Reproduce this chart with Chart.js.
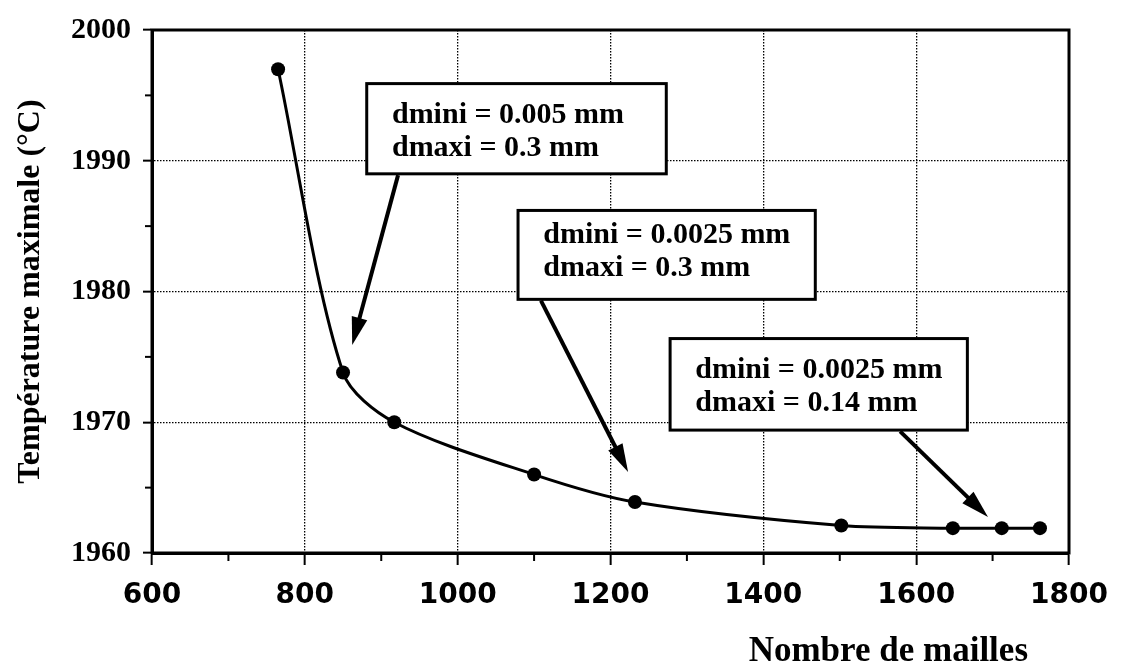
<!DOCTYPE html>
<html>
<head>
<meta charset="utf-8">
<script src="https://cdn.jsdelivr.net/npm/chart.js@4/dist/chart.umd.min.js"></script>
<style>
  html, body { margin: 0; padding: 0; background: #fff; }
  #wrap { width: 1123px; height: 669px; }
</style>
</head>
<body>
<div id="wrap"><canvas id="meshChart" width="1123" height="669"></canvas></div>
<script>
// data
const meshCounts = [765, 850, 917, 1100, 1232, 1502, 1648, 1712, 1762];
const maxTemps = [1997.0, 1973.8, 1970.0, 1966.0, 1963.9, 1962.1, 1961.9, 1961.9, 1961.9];

// axis ticks
const xTickValues = [600, 800, 1000, 1200, 1400, 1600, 1800];
const xMinorTicks = [700, 900, 1100, 1300, 1500, 1700];
const yTickValues = [1960, 1970, 1980, 1990, 2000];
const yMinorTicks = [1965, 1975, 1985, 1995];

const xTitle = 'Nombre de mailles';
const yTitle = 'Température maximale (°C)';

// callout boxes, in data units
const notes = [
  { lines: ['dmini = 0.005 mm', 'dmaxi = 0.3 mm'], box: [881, 1995.9, 1273, 1989.0], text: [914, 1992.9], from: [922, 1988.9], to: [862, 1975.9] },
  { lines: ['dmini = 0.0025 mm', 'dmaxi = 0.3 mm'], box: [1079, 1986.2, 1468, 1979.4], text: [1112, 1983.7], from: [1109, 1979.3], to: [1223, 1966.2] },
  { lines: ['dmini = 0.0025 mm', 'dmaxi = 0.14 mm'], box: [1278, 1976.4, 1667, 1969.4], text: [1311, 1973.4], from: [1579, 1969.3], to: [1694, 1962.75] }
];

const serifBold = '"Liberation Serif", "Times New Roman", serif';

const extrasPlugin = {
  id: 'extras',
  afterDatasetsDraw(chart) {
    const { ctx, scales: { x, y } } = chart;
    ctx.save();
    notes.forEach(n => {
      const bx1 = x.getPixelForValue(n.box[0]), by1 = y.getPixelForValue(n.box[1]);
      const bx2 = x.getPixelForValue(n.box[2]), by2 = y.getPixelForValue(n.box[3]);

      // arrow
      const fx = x.getPixelForValue(n.from[0]), fy = y.getPixelForValue(n.from[1]);
      const tx = x.getPixelForValue(n.to[0]), ty = y.getPixelForValue(n.to[1]);
      const ang = Math.atan2(ty - fy, tx - fx);
      const headLen = 28, headHalf = 8;
      const bx = tx - headLen * Math.cos(ang), byy = ty - headLen * Math.sin(ang);
      ctx.strokeStyle = '#000';
      ctx.lineWidth = 4;
      ctx.beginPath();
      ctx.moveTo(fx, fy);
      ctx.lineTo(bx + 2 * Math.cos(ang), byy + 2 * Math.sin(ang));
      ctx.stroke();
      ctx.fillStyle = '#000';
      ctx.beginPath();
      ctx.moveTo(tx, ty);
      ctx.lineTo(bx + headHalf * Math.sin(ang), byy - headHalf * Math.cos(ang));
      ctx.lineTo(bx - headHalf * Math.sin(ang), byy + headHalf * Math.cos(ang));
      ctx.closePath();
      ctx.fill();

      // box
      ctx.fillStyle = '#fff';
      ctx.fillRect(bx1, by1, bx2 - bx1, by2 - by1);
      ctx.lineWidth = 3;
      ctx.strokeRect(bx1, by1, bx2 - bx1, by2 - by1);

      // text
      ctx.fillStyle = '#000';
      ctx.font = 'bold 30px ' + serifBold;
      ctx.textAlign = 'left';
      ctx.textBaseline = 'alphabetic';
      const tx0 = x.getPixelForValue(n.text[0]), ty0 = y.getPixelForValue(n.text[1]);
      n.lines.forEach((line, i) => ctx.fillText(line, tx0, ty0 + i * 33));
    });
    ctx.restore();
  },
  afterDraw(chart) {
    const { ctx, chartArea: a, scales: { x, y } } = chart;
    ctx.save();
    ctx.strokeStyle = '#000';
    // frame
    ctx.lineWidth = 3;
    ctx.strokeRect(a.left, a.top, a.right - a.left, a.bottom - a.top);
    // minor ticks
    ctx.lineWidth = 2;
    xMinorTicks.forEach(v => {
      const px = x.getPixelForValue(v);
      ctx.beginPath();
      ctx.moveTo(px, a.bottom);
      ctx.lineTo(px, a.bottom + 8);
      ctx.stroke();
    });
    yMinorTicks.forEach(v => {
      const py = y.getPixelForValue(v);
      ctx.beginPath();
      ctx.moveTo(a.left, py);
      ctx.lineTo(a.left - 7, py);
      ctx.stroke();
    });
    // x title
    ctx.fillStyle = '#000';
    ctx.font = 'bold 35px ' + serifBold;
    ctx.textAlign = 'right';
    ctx.textBaseline = 'alphabetic';
    ctx.fillText(xTitle, a.right - 41, 661);
    ctx.restore();
  }
};

const ctx = document.getElementById('meshChart').getContext('2d');
new Chart(ctx, {
  type: 'scatter',
  data: {
    datasets: [{
      data: meshCounts.map((m, i) => ({ x: m, y: maxTemps[i] })),
      showLine: true,
      borderColor: '#000',
      backgroundColor: '#000',
      borderWidth: 3,
      tension: 0.3,
      pointRadius: 7,
      pointHoverRadius: 7,
      pointBorderWidth: 0
    }]
  },
  options: {
    responsive: false,
    animation: false,
    events: [],
    layout: { padding: { top: 29, right: 54, left: 0, bottom: 0 } },
    plugins: { legend: { display: false }, tooltip: { enabled: false } },
    scales: {
      x: {
        type: 'linear',
        min: 600,
        max: 1800,
        afterBuildTicks: s => { s.ticks = xTickValues.map(v => ({ value: v })); },
        afterFit: s => { s.height = 669 - 553; },
        grid: {
          color: '#000',
          lineWidth: 1.3,
          tickLength: 12,
          tickWidth: 2,
          tickColor: '#000'
        },
        border: { display: true, color: '#000', width: 3, dash: [1.5, 1.5] },
        ticks: {
          color: '#000',
          padding: 14,
          maxRotation: 0,
          callback: v => String(v),
          font: { family: '"DejaVu Sans", sans-serif', size: 28, weight: 'bold' }
        }
      },
      y: {
        type: 'linear',
        min: 1960,
        max: 2000,
        afterBuildTicks: s => { s.ticks = yTickValues.map(v => ({ value: v })); },
        afterFit: s => { s.width = 152; },
        grid: {
          color: '#000',
          lineWidth: 1.3,
          tickLength: 9,
          tickWidth: 2,
          tickColor: '#000'
        },
        border: { display: true, color: '#000', width: 3, dash: [1.5, 1.5] },
        ticks: {
          color: '#000',
          padding: 12,
          callback: v => String(v),
          font: { family: serifBold, size: 30, weight: 'bold' }
        },
        title: {
          display: true,
          text: yTitle,
          color: '#000',
          padding: { top: 12, bottom: 0 },
          font: { family: serifBold, size: 32, weight: 'bold' }
        }
      }
    }
  },
  plugins: [extrasPlugin]
});
</script>
</body>
</html>
